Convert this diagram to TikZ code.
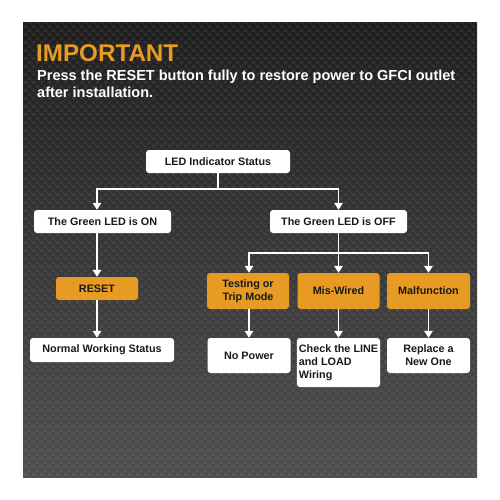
\documentclass[tikz,border=0pt]{standalone}
\usepackage{fontspec}
\setmainfont{Liberation Sans}
\usetikzlibrary{arrows.meta,patterns}
\definecolor{gfciorange}{RGB}{232,155,35}
\definecolor{bgtop}{RGB}{32,32,32}
\definecolor{bgmid}{RGB}{20,20,20}
\definecolor{bgbot}{RGB}{80,80,80}
\definecolor{boxtext}{RGB}{25,25,25}
\pgfdeclarepatternformonly{carbon}{\pgfpointorigin}{\pgfpoint{8pt}{8pt}}{\pgfpoint{8pt}{8pt}}{%
  \pgfpathrectangle{\pgfpoint{0.5pt}{0.5pt}}{\pgfpoint{3pt}{3pt}}%
  \pgfpathrectangle{\pgfpoint{4.5pt}{4.5pt}}{\pgfpoint{3pt}{3pt}}%
  \pgfusepath{fill}}
\begin{document}
\begin{tikzpicture}[x=1pt,y=-1pt,
  basebox/.style={rounded corners=3pt, font=\bfseries\fontsize{10.8}{13}\selectfont,
    align=center, inner sep=2pt, text=boxtext},
  wbox/.style={basebox, fill=white},
  obox/.style={basebox, fill=gfciorange},
  arr/.style={draw=white, line width=1.5pt, -{Triangle[width=8.5pt,length=7pt]}},
  title/.style={font=\bfseries\fontsize{24.2}{26}\selectfont, text=gfciorange, inner sep=0pt, anchor=base west},
  note/.style={font=\bfseries\fontsize{14.5}{17}\selectfont, text=white, inner sep=0pt, anchor=base west}]
\useasboundingbox (0,0) rectangle (500,500);
\fill[white] (0,0) rectangle (500,500);
\shade[top color=bgtop, middle color=bgmid, bottom color=bgbot] (23,23) rectangle (477,477);
\fill[pattern=carbon, pattern color=white, opacity=0.07] (23,23) rectangle (477,477);

\node[title] (imp) at (36,62) {IMPORTANT};
\node[note] (n1) at (37,81) {Press the RESET button fully to restore power to GFCI outlet};
\node[note] (n2) at (37,98) {after installation.};

\node[wbox, minimum width=144pt, minimum height=23pt] (led) at (218,161.5) {LED Indicator Status};
\node[wbox, minimum width=137pt, minimum height=23pt] (on) at (102.5,221.5) {The Green LED is ON};
\node[wbox, minimum width=137pt, minimum height=23pt] (off) at (338.5,221.5) {The Green LED is OFF};

\node[obox, minimum width=82pt, minimum height=23pt] (reset) at (97,288.5) {RESET};
\node[obox, minimum width=82pt, minimum height=36pt] (test) at (248,291) {Testing or\\Trip Mode};
\node[obox, minimum width=82pt, minimum height=36pt] (mis) at (338.5,291) {Mis-Wired};
\node[obox, minimum width=83pt, minimum height=36pt] (mal) at (428.5,291) {Malfunction};

\node[wbox, minimum width=144pt, minimum height=24pt] (nws) at (102,350) {Normal Working Status};
\node[wbox, minimum width=83pt, minimum height=35pt] (nop) at (249,355.5) {No Power};
\node[wbox, minimum width=82pt, minimum height=49pt, align=left] (chk) at (338.5,362.5) {Check the LINE\\and LOAD\\Wiring};
\node[wbox, minimum width=83pt, minimum height=35pt] (rep) at (428.5,355.5) {Replace a\\New One};

\coordinate (j1) at (218,189);
\coordinate (j2) at (338.5,253);
\draw[arr] (led.south) -- (j1) -| (on.north -| reset.north);
\draw[arr] (j1) -| (off.north);
\draw[arr] (on.south -| reset.north) -- (reset.north);
\draw[arr] (reset.south) -- (reset.south |- nws.north);
\draw[arr] (off.south) -- (j2) -| (test.north -| nop.north);
\draw[arr] (j2) -| (mal.north);
\draw[arr] (j2) -- (mis.north);
\draw[arr] (test.south -| nop.north) -- (nop.north);
\draw[arr] (mis.south) -- (chk.north);
\draw[arr] (mal.south) -- (rep.north);
\end{tikzpicture}
\end{document}
